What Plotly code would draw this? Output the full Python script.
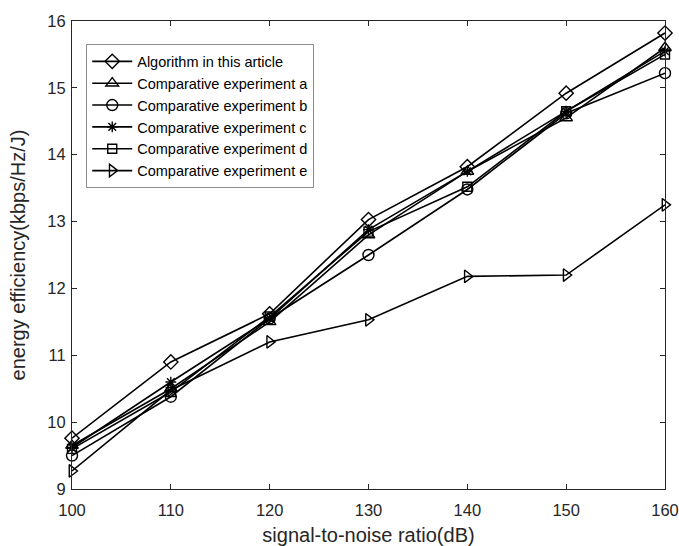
import plotly.graph_objects as go

snr = [100, 110, 120, 130, 140, 150, 160]
names = ["Algorithm in this article", "Comparative experiment a", "Comparative experiment b",
         "Comparative experiment c", "Comparative experiment d", "Comparative experiment e"]
alg = [9.76, 10.90, 11.62, 13.03, 13.82, 14.92, 15.82]
exp_a = [9.65, 10.50, 11.50, 12.80, 13.75, 14.55, 15.60]
exp_b = [9.50, 10.38, 11.55, 12.50, 13.48, 14.62, 15.22]
exp_c = [9.62, 10.60, 11.55, 12.88, 13.75, 14.65, 15.55]
exp_d = [9.60, 10.45, 11.58, 12.85, 13.52, 14.65, 15.50]
exp_e = [9.27, 10.48, 11.20, 11.53, 12.18, 12.20, 13.25]
series = [alg, exp_a, exp_b, exp_c, exp_d, exp_e]
symbols = ["diamond-open", "triangle-up-open", "circle-open", "asterisk-open", "square-open", "triangle-right-open"]
sizes = [11, 11, 11, 9, 9, 11]

fig = go.Figure()
for n, s, sym, sz in zip(names, series, symbols, sizes):
    fig.add_trace(go.Scatter(x=snr, y=s, name=n, mode="lines+markers", cliponaxis=False,
                             line=dict(color="black", width=1.6),
                             marker=dict(symbol=sym, size=sz, color="black",
                                         line=dict(color="black", width=1.4))))

axis_common = dict(showline=True, linecolor="#262626", linewidth=1, mirror="ticks",
                   ticks="inside", ticklen=5, tickcolor="#262626", showgrid=False,
                   zeroline=False, automargin=False, tickfont=dict(size=16.5, color="#262626"))
fig.update_xaxes(range=[100, 160], dtick=10, ticklabelstandoff=6,
                 title=dict(text="signal-to-noise ratio(dB)",
                            font=dict(size=20, color="#262626"), standoff=12), **axis_common)
fig.update_yaxes(range=[9, 16], dtick=1, ticklabelstandoff=2,
                 title=dict(text="energy efficiency(kbps/Hz/J)",
                            font=dict(size=20, color="#262626"), standoff=16), **axis_common)

fig.update_layout(
    width=679, height=546,
    margin=dict(l=72, r=14, t=21, b=57, autoexpand=False),
    plot_bgcolor="white", paper_bgcolor="white",
    font=dict(family="Liberation Sans, Arial", color="#262626"),
    legend=dict(x=0.024, y=0.95, xanchor="left", yanchor="top",
                bgcolor="white", bordercolor="#8c8c8c", borderwidth=1,
                font=dict(size=14.5, color="black"), tracegroupgap=0, itemwidth=40),
)
fig.write_html(
    "out.html",
    config={"displayModeBar": False, "responsive": False},
    post_script=("document.documentElement.style.margin='0';"
                 "document.documentElement.style.overflow='hidden';"
                 "document.body.style.margin='0';document.body.style.padding='0';"
                 "document.body.style.overflow='hidden';"),
)
